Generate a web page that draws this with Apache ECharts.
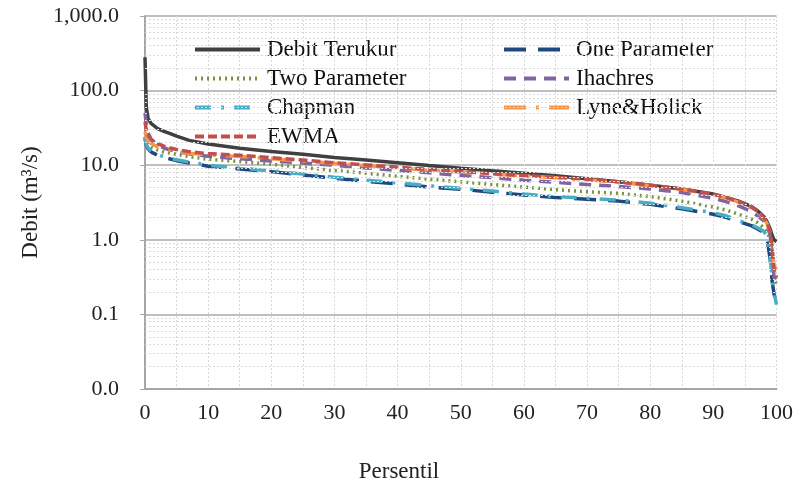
<!DOCTYPE html>
<html>
<head>
<meta charset="utf-8">
<script src="https://cdn.jsdelivr.net/npm/echarts@6/dist/echarts.min.js"></script>
<style>html,body{margin:0;padding:0;background:#fff}#c{width:796px;height:483px}</style>
</head>
<body>
<div id="c"></div>
<script>
var percentiles = [0, 0.2, 0.5, 1, 2, 3, 4, 5, 7, 10, 15, 20, 25, 30, 35, 40, 45, 50, 55, 60, 65, 70, 75, 80, 85, 90, 92, 94, 96, 97, 98, 98.5, 99, 99.3, 99.6, 100];
var debitTerukur = [280, 60, 42, 36, 31, 28.5, 26.5, 24.5, 21.5, 19.2, 16.9, 15.3, 14, 12.7, 11.7, 10.8, 9.9, 9.1, 8.4, 7.8, 7.2, 6.6, 6.0, 5.4, 4.8, 4.1, 3.7, 3.3, 2.8, 2.45, 2.05, 1.75, 1.4, 1.15, 1.0, 0.95];
var oneParameter = [23, 18.5, 16.5, 15, 13.6, 12.7, 12.1, 11.5, 10.7, 9.7, 8.9, 8.2, 7.4, 6.7, 6.1, 5.6, 5.1, 4.75, 4.35, 4.0, 3.7, 3.5, 3.3, 3.0, 2.6, 2.2, 2.0, 1.75, 1.55, 1.4, 1.25, 1.05, 0.55, 0.28, 0.19, 0.13];
var twoParameter = [24, 21, 19, 17.5, 16, 15, 14.5, 14, 13, 12, 11.2, 10.3, 9.3, 8.5, 7.8, 7.1, 6.5, 6.0, 5.5, 5.1, 4.7, 4.4, 4.2, 3.8, 3.3, 2.75, 2.5, 2.2, 1.9, 1.7, 1.45, 1.3, 1.0, 0.7, 0.3, 0.25];
var ihachres = [50, 36, 27, 22, 18.5, 17, 16, 15.3, 14.2, 13.2, 12.2, 11.4, 10.7, 10.0, 9.2, 8.5, 7.9, 7.3, 6.8, 6.3, 5.9, 5.5, 5.2, 4.8, 4.3, 3.6, 3.25, 2.85, 2.4, 2.1, 1.8, 1.55, 1.15, 0.7, 0.32, 0.28];
var chapman = [24, 19, 17, 15.5, 14, 13, 12.4, 11.8, 11, 10, 9.1, 8.4, 7.6, 6.9, 6.3, 5.8, 5.3, 4.9, 4.5, 4.1, 3.8, 3.6, 3.4, 3.1, 2.7, 2.3, 2.1, 1.8, 1.6, 1.45, 1.3, 1.1, 0.6, 0.3, 0.2, 0.135];
var lyneHolick = [28, 24, 21, 19.5, 17.5, 16.5, 15.8, 15.2, 14.5, 13.8, 13.1, 12.2, 11.4, 10.6, 9.9, 9.2, 8.6, 8.1, 7.6, 7.2, 6.8, 6.4, 5.9, 5.35, 4.75, 4.05, 3.65, 3.2, 2.7, 2.35, 1.95, 1.65, 1.25, 0.9, 0.45, 0.4];
var ewma = [38, 30, 25, 22, 19.5, 18, 17, 16.2, 15.2, 14.3, 13.6, 12.6, 11.7, 10.8, 10.1, 9.4, 8.8, 8.2, 7.7, 7.3, 6.9, 6.5, 6.0, 5.4, 4.8, 4.1, 3.7, 3.25, 2.75, 2.4, 2.0, 1.7, 1.3, 0.8, 0.4, 0.31];
var xTicks = [0, 10, 20, 30, 40, 50, 60, 70, 80, 90, 100];
var yTicks = [0.01, 0.1, 1, 10, 100, 1000];

function pairs(v) { return percentiles.map(function (p, i) { return [p, v[i]]; }); }

var minorY = [];
for (var k = -2; k < 3; k++) for (var m = 2; m <= 9; m++) minorY.push({ yAxis: m * Math.pow(10, k) });

var FONT = 'Liberation Serif';
function mk(name, data, color, dash, w) {
  return { name: name, type: 'line', data: pairs(data), symbol: 'none', showSymbol: false, smooth: false,
    lineStyle: { color: color, width: w || 3.5, type: dash, cap: 'butt' }, itemStyle: { color: color }, z: 3 };
}
var legendCommon = { orient: 'vertical', top: 33, itemWidth: 65, itemHeight: 14, itemGap: 6, selectedMode: false,
  itemStyle: { opacity: 0 }, lineStyle: { width: 4 },
  textStyle: { fontFamily: FONT, fontSize: 23, color: '#111', padding: [0, 0, 0, 2] } };

var chart = echarts.init(document.getElementById('c'), null, { renderer: 'canvas' });
chart.setOption({
  backgroundColor: '#fff',
  animation: false,
  grid: { left: 145, right: 19, top: 16, bottom: 94 },
  title: { text: 'Persentil', left: 394, top: 455, textAlign: 'center',
    textStyle: { fontFamily: FONT, fontSize: 23, fontWeight: 'normal', color: '#222' } },
  legend: [
    Object.assign({ data: ['Debit Terukur', 'Two Parameter', 'Chapman', 'EWMA'], left: 188 }, legendCommon),
    Object.assign({ data: ['One Parameter', 'Ihachres', 'Lyne&Holick'], left: 497 }, legendCommon)
  ],
  xAxis: {
    type: 'value', min: 0, max: 100, interval: 10,
    axisLine: { show: true, lineStyle: { color: '#a6a6a6', width: 2 } },
    axisTick: { show: false },
    axisLabel: { fontFamily: FONT, fontSize: 22, color: '#222', margin: 13, customValues: xTicks },
    splitLine: { show: true, lineStyle: { color: '#d9d9d9', type: [2, 2], width: 1 } },
    minorTick: { show: false, splitNumber: 2 },
    minorSplitLine: { show: true, lineStyle: { color: '#d9d9d9', type: [2, 2], width: 1 } }
  },
  yAxis: {
    type: 'log', logBase: 10, min: 0.01, max: 1000,
    name: 'Debit (m³/s)', nameLocation: 'middle', nameGap: 102, nameRotate: 90,
    nameTextStyle: { fontFamily: FONT, fontSize: 23, color: '#222' },
    axisLine: { show: true, lineStyle: { color: '#a6a6a6', width: 2 } },
    axisTick: { show: true, inside: false, length: 5, lineStyle: { color: '#a6a6a6' } },
    axisLabel: { fontFamily: FONT, fontSize: 22, color: '#222', margin: 26,
      formatter: function (v) { return Number(v).toLocaleString('en-US', { minimumFractionDigits: 1, maximumFractionDigits: 1 }); } },
    splitLine: { show: true, lineStyle: { color: '#bfbfbf', width: 2 } }
  },
  series: [
    { name: 'grid-minor', type: 'line', data: [], silent: true, z: 1,
      markLine: { silent: true, symbol: ['none', 'none'], label: { show: false }, animation: false,
        lineStyle: { color: '#d9d9d9', type: [2, 2], width: 1 }, data: minorY } },
    mk('Debit Terukur', debitTerukur, '#404040', 'solid'),
    mk('One Parameter', oneParameter, '#1f497d', [22, 12]),
    mk('Two Parameter', twoParameter, '#77933c', [2, 4]),
    mk('Ihachres', ihachres, '#8064a2', [12, 8]),
    mk('Chapman', chapman, '#4bacc6', [16, 10, 3, 10]),
    mk('Lyne&Holick', lyneHolick, '#f79646', [22, 10, 3, 10]),
    mk('EWMA', ewma, '#c0504d', [9, 4])
  ]
});
</script>
</body>
</html>
